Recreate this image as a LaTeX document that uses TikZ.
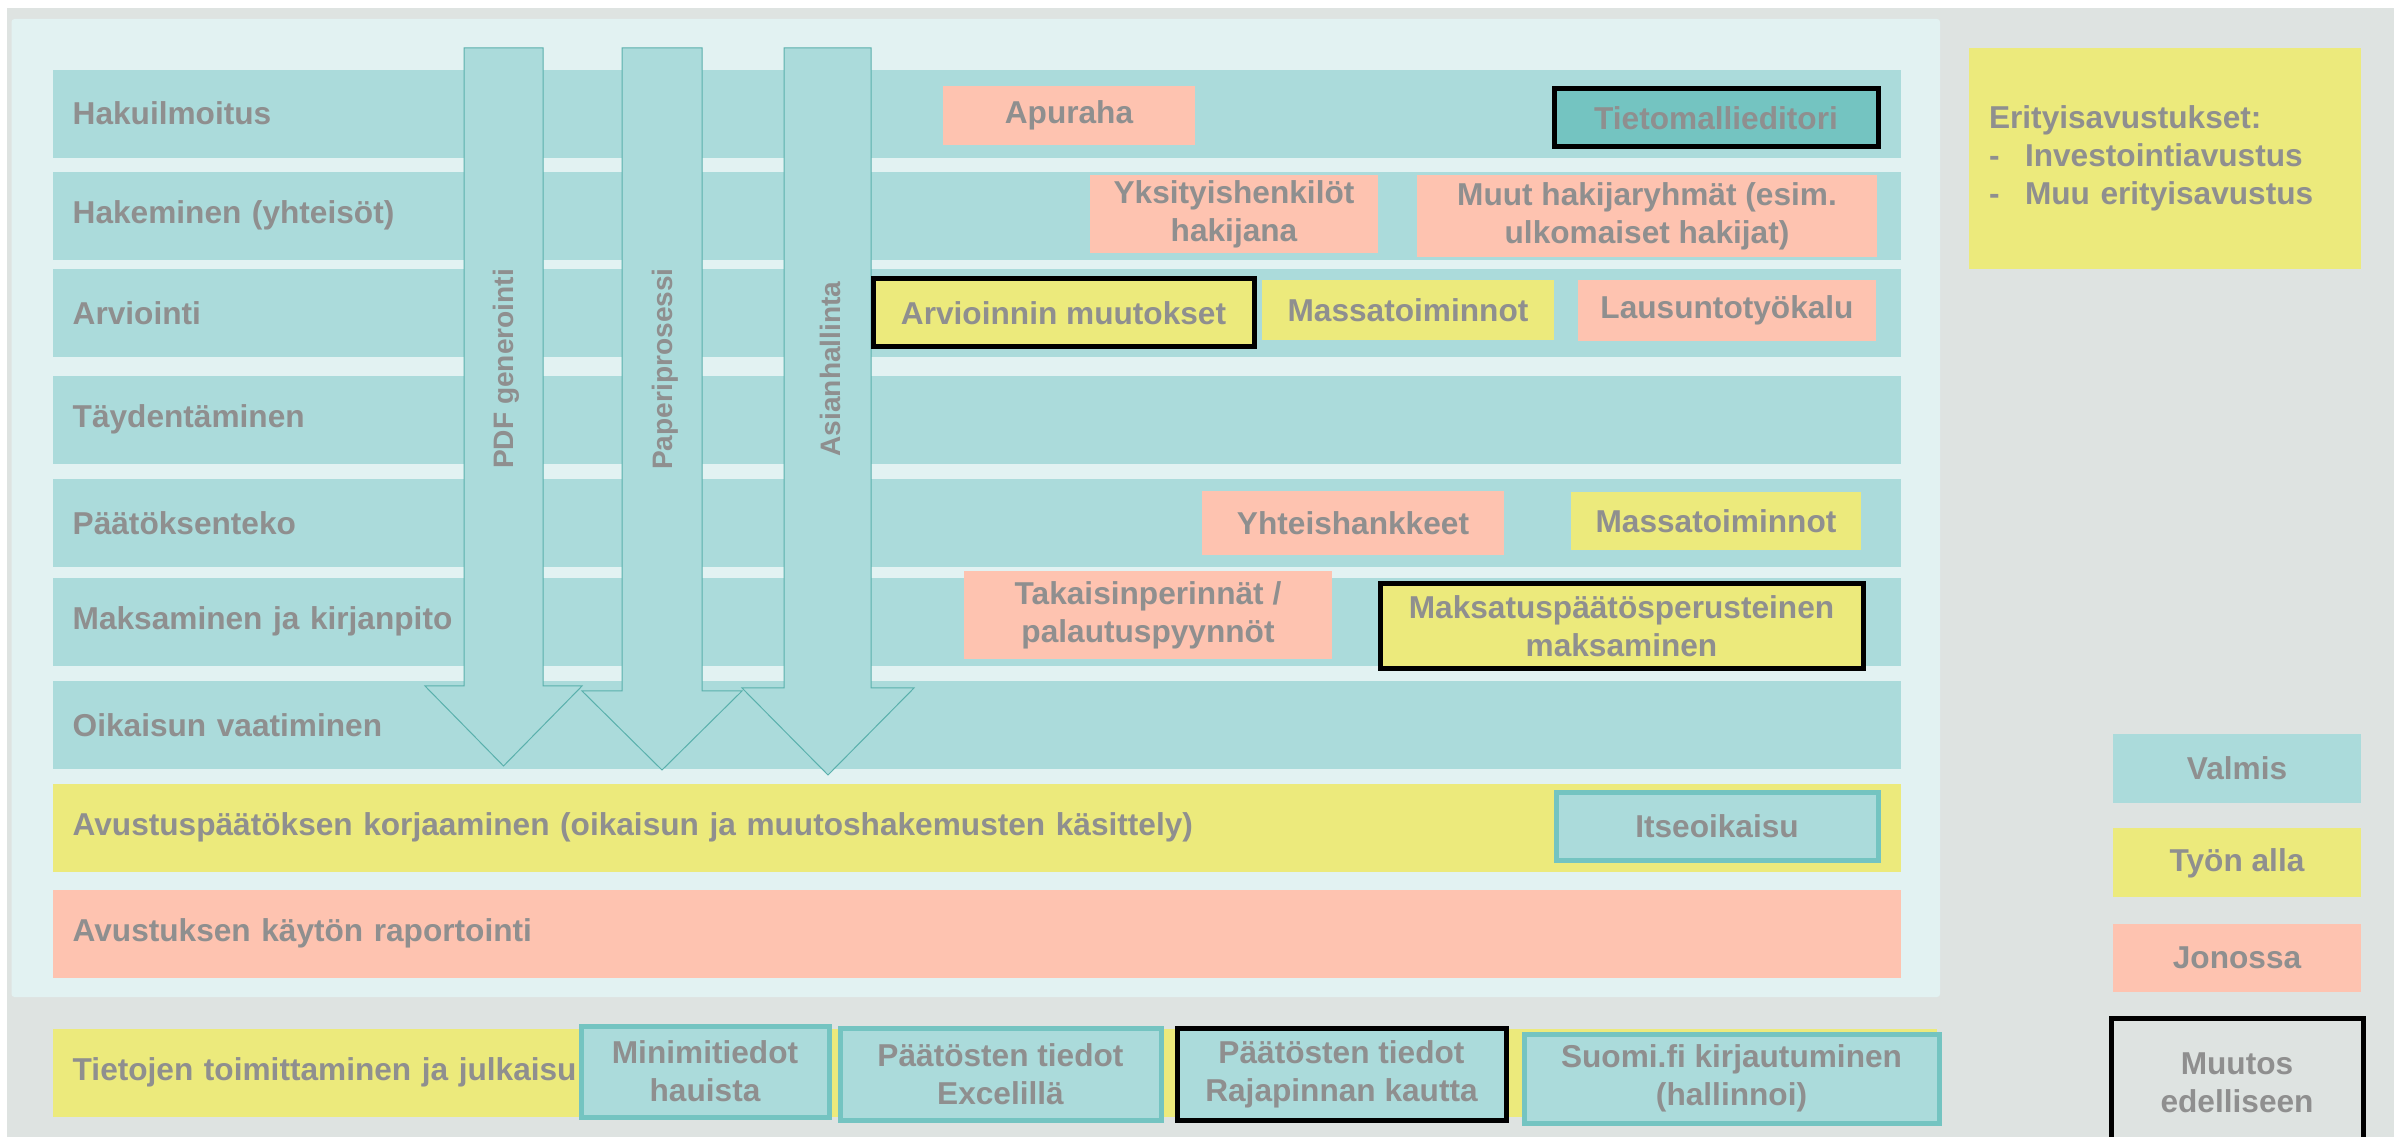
\documentclass[tikz,border=0pt]{standalone}
\usepackage{fontspec}
\setmainfont{Liberation Sans}
\usetikzlibrary{positioning}
\definecolor{bggray}{HTML}{DEE3E1}
\definecolor{panel}{HTML}{E2F2F2}
\definecolor{teal1}{HTML}{ABDBDB}
\definecolor{teal2}{HTML}{74C4C1}
\definecolor{edge}{HTML}{5AB0AC}
\definecolor{yel}{HTML}{ECEA7C}
\definecolor{salmon}{HTML}{FEC3B0}
\definecolor{txt}{HTML}{8F8F8F}

\tikzset{
  lbl/.style={text=txt,font=\fontsize{9}{10.8}\selectfont\bfseries,align=center,inner sep=0pt},
  wh/.style 2 args={minimum width=#1*0.1mm,minimum height=#2*0.1mm},
  row/.style={lbl,fill=teal1,anchor=north west,align=left,text width=180.8mm,inner xsep=2mm,minimum height=8.8mm},
  done/.style={lbl,fill=teal1},
  ready/.style={done,draw=teal2,line width=0.5mm},
  wip/.style={lbl,fill=yel},
  queue/.style={lbl,fill=salmon},
  changed/.style={draw=black,line width=0.5mm},
  flow/.style={fill=teal1,draw=edge,line width=0.1mm},
  flowtext/.style={text=txt,font=\fontsize{8}{9.6}\selectfont\bfseries,rotate=90,inner sep=0pt}
}

\begin{document}
\begin{tikzpicture}[x=0.1mm,y=-0.1mm]
\useasboundingbox (0,0) rectangle (2394,1137);
\fill[bggray] (7,8) rectangle (2394,1137);
\fill[panel,rounded corners=0.3mm] (11.5,19) rectangle (1940,997);

% process rows
\foreach \t/\y [count=\i] in {
  Hakuilmoitus/69,
  Hakeminen (yhteisöt)/171,
  Arviointi/268,
  Täydentäminen/375,
  Päätöksenteko/478,
  Maksaminen ja kirjanpito/577,
  Oikaisun vaatiminen/680
}
\node[row] (r\i) at (52,\y) {\t};
\node[row,fill=yel] (r8) at (52,783) {Avustuspäätöksen korjaaminen (oikaisun ja muutoshakemusten käsittely)};
\node[row,fill=salmon] (r9) at (52,889) {Avustuksen käytön raportointi};
\node[row,fill=yel,text width=184.4mm] (r10) at (52,1028) {Tietojen toimittaminen ja julkaisu};

% vertical arrows
\foreach \sl/\sr/\hb/\hl/\hr/\tip/\t [count=\i] in {
  464/543/686/425/582/766/PDF generointi,
  622/702/691/582/742/770/Paperiprosessi,
  784/871/688/742/914/775/Asianhallinta
}{
\draw[flow] (\sl,48) -- (\sr,48) -- (\sr,\hb) -- (\hr,\hb) -- ({(\hl+\hr)/2},\tip)
  -- (\hl,\hb) -- (\sl,\hb) -- cycle;
\node[flowtext] (f\i) at ({(\sl+\sr)/2+3},369) {\t};
}

% features
\node[queue,wh={252}{59}] (apuraha) at (1069,115.5) {Apuraha};
\node[lbl,fill=teal2,changed,wh={324}{58}] (tietomalli) at (1716,118) {Tietomallieditori};
\node[queue,wh={288}{78}] (yksit) at (1234,214) {Yksityishenkilöt\\hakijana};
\node[queue,wh={460}{82}] (muut) at (1647,216) {Muut hakijaryhmät (esim.\\ulkomaiset hakijat)};
\node[wip,changed,wh={381}{68}] (arvmuut) at (1063.5,313) {Arvioinnin muutokset};
\node[wip,wh={292}{60}] (massa1) at (1408,310) {Massatoiminnot};
\node[queue,wh={298}{61}] (lausunto) at (1727,310.5) {Lausuntotyökalu};
\node[queue,wh={302}{64}] (yhteis) at (1353,523) {Yhteishankkeet};
\node[wip,wh={290}{58}] (massa2) at (1716,521) {Massatoiminnot};
\node[queue,wh={368}{88}] (takaisin) at (1148,615) {Takaisinperinnät /\\palautuspyynnöt};
\node[wip,changed,wh={483}{85}] (maksatus) at (1621.5,626.5) {Maksatuspäätösperusteinen\\maksaminen};
\node[ready,wh={322}{68}] (itse) at (1717,826) {Itseoikaisu};
\node[ready,wh={248}{91}] (mini) at (705,1071.5) {Minimitiedot\\hauista};
\node[ready,wh={321}{92}] (excel) at (1000.5,1074) {Päätösten tiedot\\Excelillä};
\node[ready,changed,wh={329}{92}] (rajap) at (1341.5,1074) {Päätösten tiedot\\Rajapinnan kautta};
\node[ready,wh={415}{89}] (suomi) at (1731.5,1078.5) {Suomi.fi kirjautuminen\\(hallinnoi)};

% side notes and legend
\node[wip,wh={392}{221},align=left,text width=35.2mm,inner xsep=2mm] (erit) at (2165,158.5)
  {Erityisavustukset:\\\makebox[3.6mm][l]{-}Investointiavustus\\\makebox[3.6mm][l]{-}Muu erityisavustus};
\node[done,wh={248}{69}] (valmis) at (2237,768.5) {Valmis};
\node[wip,wh={248}{69},below=2.4mm of valmis] (tyon) {Työn alla};
\node[queue,wh={248}{68},below=2.5mm of tyon] (jonossa) {Jonossa};
\node[lbl,changed,wh={252}{129},below=2.3mm of jonossa] (muutos) {Muutos\\edelliseen};
\end{tikzpicture}
\end{document}
